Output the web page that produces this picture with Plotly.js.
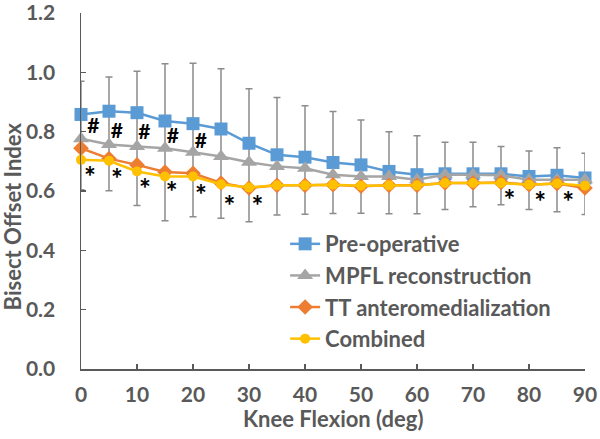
<!DOCTYPE html>
<html>
<head>
<meta charset="utf-8">
<script src="https://cdn.plot.ly/plotly-3.0.1.min.js"></script>
<style>
  html, body { margin: 0; padding: 0; background: #fff; }
  #chart { width: 600px; height: 439px; }
</style>
</head>
<body>
<div id="chart"></div>
<script>
// knee flexion angles (deg)
let flexion = [0, 5, 10, 15, 20, 25, 30, 35, 40, 45, 50, 55, 60, 65, 70, 75, 80, 85, 90];
let xTicks = [0, 10, 20, 30, 40, 50, 60, 70, 80, 90];
let yTicks = [0, 0.2, 0.4, 0.6, 0.8, 1.0, 1.2];

// bisect offset index per group
let preOp    = [0.858, 0.869, 0.864, 0.836, 0.827, 0.809, 0.761, 0.722, 0.714, 0.696, 0.688, 0.666, 0.655, 0.658, 0.658, 0.658, 0.649, 0.653, 0.644];
let mpfl     = [0.776, 0.757, 0.750, 0.744, 0.731, 0.716, 0.697, 0.683, 0.677, 0.655, 0.649, 0.649, 0.638, 0.655, 0.655, 0.653, 0.638, 0.638, 0.638];
let ttam     = [0.744, 0.709, 0.688, 0.664, 0.660, 0.627, 0.610, 0.619, 0.619, 0.621, 0.616, 0.619, 0.619, 0.627, 0.627, 0.629, 0.621, 0.625, 0.610];
let combined = [0.705, 0.702, 0.666, 0.649, 0.649, 0.623, 0.612, 0.619, 0.619, 0.621, 0.618, 0.619, 0.619, 0.627, 0.627, 0.627, 0.621, 0.625, 0.618];

// ends of the SD bars (upper cap, lower cap)
let barTop    = [0.970, 0.984, 1.004, 1.029, 1.031, 1.012, 0.945, 0.915, 0.887, 0.868, 0.839, 0.800, 0.786, 0.764, 0.764, 0.750, 0.735, 0.746, 0.727];
let barBottom = [0.604, 0.601, 0.551, 0.500, 0.513, 0.508, 0.496, 0.519, 0.522, 0.524, 0.525, 0.523, 0.523, 0.538, 0.547, 0.554, 0.538, 0.530, 0.521];

// significance marks (label anchors)
let hashX = [2.2, 6.4, 11.3, 16.4, 21.4];
let hashY = [0.812, 0.797, 0.794, 0.781, 0.764];
let starX = [1.6, 6.4, 11.4, 16.2, 21.4, 26.5, 31.5, 76.5, 82, 87];
let starY = [0.636, 0.630, 0.597, 0.586, 0.575, 0.538, 0.538, 0.558, 0.552, 0.552];

let textGray = '#595959';
let fontFam = 'Lato, "Open Sans", sans-serif';

let errUp = barTop.map((v, i) => v - preOp[i]);
let errDown = barBottom.map((v, i) => preOp[i] - v);

var tracePre = {
    x: flexion, y: preOp, name: 'Pre-operative',
    mode: 'lines+markers',
    line: {color: '#5B9BD5', width: 2.5},
    marker: {symbol: 'square', size: 13, color: '#5B9BD5'},
    error_y: {type: 'data', symmetric: false, array: errUp, arrayminus: errDown,
              color: '#8c8c8c', thickness: 1.5, width: 3.5},
    cliponaxis: false
};
var traceMpfl = {
    x: flexion, y: mpfl, name: 'MPFL reconstruction',
    mode: 'lines+markers',
    line: {color: '#A5A5A5', width: 2.5},
    marker: {symbol: 'triangle-up', size: 14, color: '#A5A5A5'},
    cliponaxis: false
};
var traceTt = {
    x: flexion, y: ttam, name: 'TT anteromedialization',
    mode: 'lines+markers',
    line: {color: '#ED7D31', width: 2.5},
    marker: {symbol: 'diamond', size: 12, color: '#ED7D31'},
    cliponaxis: false
};
var traceComb = {
    x: flexion, y: combined, name: 'Combined',
    mode: 'lines+markers',
    line: {color: '#FFC000', width: 2.5},
    marker: {symbol: 'circle', size: 10, color: '#FFC000'},
    cliponaxis: false
};
var traceHash = {
    x: hashX, y: hashY, mode: 'text', text: hashX.map(() => '#'),
    textfont: {family: fontFam, size: 21, color: '#000', weight: 'bold'},
    showlegend: false, hoverinfo: 'skip', cliponaxis: false
};
var traceStar = {
    x: starX, y: starY, mode: 'text', text: starX.map(() => '*'),
    textfont: {family: fontFam, size: 28, color: '#000', weight: 'bold'},
    showlegend: false, hoverinfo: 'skip', cliponaxis: false
};

var layout = {
    width: 600, height: 439,
    paper_bgcolor: '#fff', plot_bgcolor: '#fff',
    margin: {l: 81, r: 15, t: 13, b: 70, pad: 0},
    font: {family: fontFam, size: 21, color: textGray, weight: 'bold'},
    showlegend: true,
    legend: {
        x: 0.405, y: 0.41, xanchor: 'left', yanchor: 'top',
        bgcolor: 'rgba(0,0,0,0)', traceorder: 'normal',
        itemwidth: 30, font: {family: fontFam, size: 22, color: textGray, weight: 'bold'}
    },
    xaxis: {
        range: [0, 90], tickvals: xTicks,
        showline: true, linecolor: '#595959', linewidth: 1.5,
        ticks: 'inside', ticklen: 5, tickcolor: '#595959', tickwidth: 1.5,
        showgrid: false, zeroline: false, ticklabelstandoff: 6,
        ticklabeloverflow: 'allow'
    },
    yaxis: {
        range: [0, 1.2], tickvals: yTicks, tickformat: '.1f',
        showline: true, linecolor: '#595959', linewidth: 1.5,
        ticks: 'inside', ticklen: 5, tickcolor: '#595959', tickwidth: 1.5,
        showgrid: false, zeroline: false, ticklabelstandoff: 20,
        ticklabeloverflow: 'allow'
    },
    annotations: [{
        text: 'Bisect Offset Index', textangle: -90,
        xref: 'paper', yref: 'paper', x: -0.136, y: 0.43,
        xanchor: 'center', yanchor: 'middle', showarrow: false,
        font: {family: fontFam, size: 22, color: textGray, weight: 'bold'}
    }, {
        text: 'Knee Flexion (deg)',
        xref: 'paper', yref: 'paper', x: 0.5, y: -0.14,
        xanchor: 'center', yanchor: 'middle', showarrow: false,
        font: {family: fontFam, size: 22, color: textGray, weight: 'bold'}
    }]
};

Plotly.newPlot('chart', [tracePre, traceMpfl, traceTt, traceComb, traceHash, traceStar], layout, {displayModeBar: false, staticPlot: true});
</script>
</body>
</html>
